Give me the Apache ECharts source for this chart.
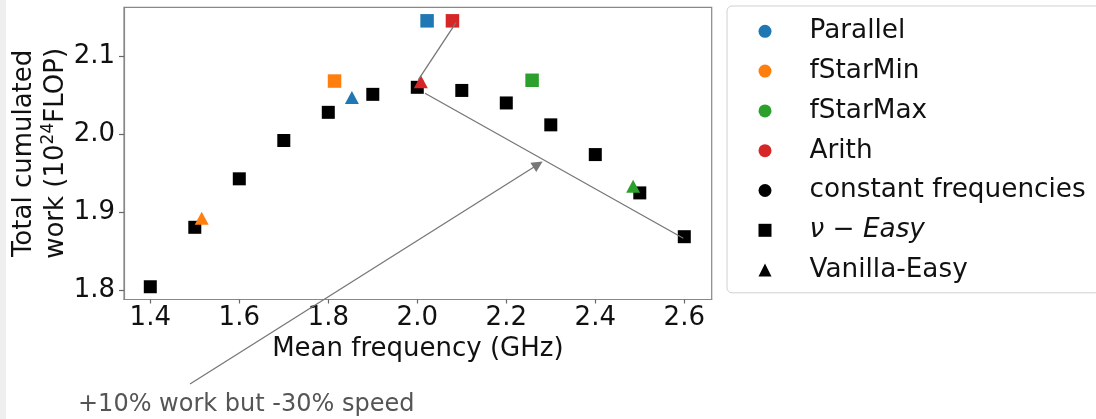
<!DOCTYPE html>
<html>
<head>
<meta charset="utf-8">
<script src="https://cdn.jsdelivr.net/npm/echarts@6/dist/echarts.min.js"></script>
<style>
html,body{margin:0;padding:0;background:#fff;}
#chart{width:1096px;height:419px;}
</style>
</head>
<body>
<div id="chart"></div>
<script>
// ---- data ----
const freqs      = [1.4, 1.5, 1.6, 1.7, 1.8, 1.9, 2.0, 2.1, 2.2, 2.3, 2.4, 2.5, 2.6];
const constWork  = [1.805, 1.881, 1.943, 1.992, 2.028, 2.051, 2.060, 2.056, 2.040, 2.012, 1.974, 1.925, 1.869];

const parallelEasy    = [2.022, 2.145];
const parallelVanilla = [1.853, 2.047];
const fStarMinEasy    = [1.814, 2.068];
const fStarMinVanilla = [1.5155, 1.8926];
const fStarMaxEasy    = [2.258, 2.069];
const fStarMaxVanilla = [2.485, 1.9335];
const arithEasy       = [2.079, 2.145];
const arithVanilla    = [2.008, 2.067];

const xTicks = [1.4, 1.6, 1.8, 2.0, 2.2, 2.4, 2.6];
const yTicks = [1.8, 1.9, 2.0, 2.1];
const xRange = [1.3409, 2.6616];
const yRange = [1.7887, 2.1623];

// annotation segments in data units
const plainSegments = [
  [[2.087, 2.1427], [2.0022, 2.0694]],
  [[2.0173, 2.0524], [2.5978, 1.867]]
];
const arrowSegment = [[1.4892, 1.6807], [2.2712, 1.9613]];
const annotationText = '+10% work but -30% speed';

const legendNames = ['Parallel', 'fStarMin', 'fStarMax', 'Arith', 'constant frequencies', 'ν − Easy', 'Vanilla-Easy'];
const legendIcons = ['circle', 'circle', 'circle', 'circle', 'circle', 'rect', 'triangle'];

const colors = {Parallel: '#1f77b4', fStarMin: '#ff7f0e', fStarMax: '#2ca02c', Arith: '#d62728'};

// ---- chart ----
const FONT = 'DejaVu Sans';
const chart = echarts.init(document.getElementById('chart'), null, {renderer: 'canvas'});

function algoSeries(name, easy, vanilla) {
  return {
    name: name, type: 'scatter', z: 3,
    itemStyle: {color: colors[name], opacity: 1},
    emphasis: {disabled: true},
    data: [
      {value: easy, symbol: 'rect', symbolSize: 13.5},
      {value: vanilla, symbol: 'triangle', symbolSize: [14, 13]}
    ]
  };
}

const option = {
  animation: false,
  backgroundColor: '#ffffff',
  textStyle: {fontFamily: FONT},
  graphic: [
    {type: 'rect', left: 0, top: 0, shape: {width: 6, height: 419}, style: {fill: '#efefef'}, z: -10},
    {type: 'text', x: 78, y: 404.5, z: 10,
     style: {text: annotationText, font: '24px "DejaVu Sans"', fill: '#555555', align: 'left', verticalAlign: 'middle'}}
  ],
  grid: {left: 124, right: 384.3, top: 7.3, bottom: 119.5, show: true, borderColor: '#888', borderWidth: 1.2,
         backgroundColor: '#fff', containLabel: false, outerBoundsMode: 'none'},
  legend: {
    orient: 'vertical', left: 727, top: 6,
    padding: [11.3, 15, 8.7, 31.5],
    itemWidth: 13, itemHeight: 13, itemGap: 11.8,
    borderColor: '#d0d0d0', borderWidth: 1, borderRadius: 5, backgroundColor: '#fff',
    selectedMode: false,
    textStyle: {fontSize: 26.3, fontFamily: FONT, color: '#111', lineHeight: 28, padding: [0, 0, 0, 33],
                rich: {it: {fontStyle: 'italic', fontSize: 26.3, fontFamily: FONT, color: '#111', lineHeight: 28}}},
    formatter: function (name) { return name === 'ν − Easy' ? '{it|' + name + '}' : name; },
    data: legendNames.map((n, i) => {
      const item = {name: n, icon: legendIcons[i]};
      if (i >= 4) item.itemStyle = {color: '#000', opacity: 1};
      return item;
    })
  },
  xAxis: {
    type: 'value', min: xRange[0], max: xRange[1],
    name: 'Mean frequency (GHz)', nameLocation: 'middle', nameGap: 35, nameMoveOverlap: false,
    nameTextStyle: {fontSize: 26, fontFamily: FONT, color: '#111', lineHeight: 30},
    axisLine: {show: true, lineStyle: {color: '#888', width: 1.2}},
    axisTick: {show: true, length: 4, lineStyle: {color: '#666', width: 1.2}, customValues: xTicks},
    axisLabel: {fontSize: 26, fontFamily: FONT, color: '#111', margin: 6, lineHeight: 26,
                customValues: xTicks, formatter: v => v.toFixed(1)},
    splitLine: {show: false}
  },
  yAxis: {
    type: 'value', min: yRange[0], max: yRange[1],
    name: 'Total cumulated\nwork (10{sup|24}FLOP)', nameLocation: 'middle', nameGap: 52, nameRotate: 90,
    nameMoveOverlap: false,
    nameTextStyle: {fontSize: 26, fontFamily: FONT, color: '#111', lineHeight: 32,
                    rich: {sup: {fontSize: 17, fontFamily: FONT, color: '#111', lineHeight: 20, verticalAlign: 'top'}}},
    axisLine: {show: true, lineStyle: {color: '#888', width: 1.2}},
    axisTick: {show: true, length: 5, lineStyle: {color: '#666', width: 1.2}, customValues: yTicks},
    axisLabel: {fontSize: 26, fontFamily: FONT, color: '#111', margin: 9,
                customValues: yTicks, formatter: v => v.toFixed(1)},
    splitLine: {show: false}
  },
  series: [
    {name: 'constant frequencies', type: 'scatter', z: 2, symbol: 'rect', symbolSize: 13,
     itemStyle: {color: '#000', opacity: 1}, emphasis: {disabled: true},
     data: freqs.map((f, i) => [f, constWork[i]])},
    algoSeries('Parallel', parallelEasy, parallelVanilla),
    algoSeries('fStarMin', fStarMinEasy, fStarMinVanilla),
    algoSeries('fStarMax', fStarMaxEasy, fStarMaxVanilla),
    algoSeries('Arith', arithEasy, arithVanilla),
    {name: 'ν − Easy', type: 'scatter', symbol: 'rect', itemStyle: {color: '#000', opacity: 1}, data: []},
    {name: 'Vanilla-Easy', type: 'scatter', symbol: 'triangle', itemStyle: {color: '#000', opacity: 1}, data: []},
    {type: 'lines', coordinateSystem: 'cartesian2d', clip: false, z: 5, silent: true,
     lineStyle: {color: '#777', width: 1.3, opacity: 1, curveness: 0},
     symbol: ['none', 'none'],
     data: plainSegments.map(s => ({coords: s}))},
    {type: 'lines', coordinateSystem: 'cartesian2d', clip: false, z: 5, silent: true,
     lineStyle: {color: '#777', width: 1.3, opacity: 1, curveness: 0},
     symbol: ['none', 'triangle'], symbolSize: [8, 11],
     itemStyle: {color: '#666'},
     data: [{coords: arrowSegment}]}
  ]
};
chart.setOption(option);
</script>
</body>
</html>
